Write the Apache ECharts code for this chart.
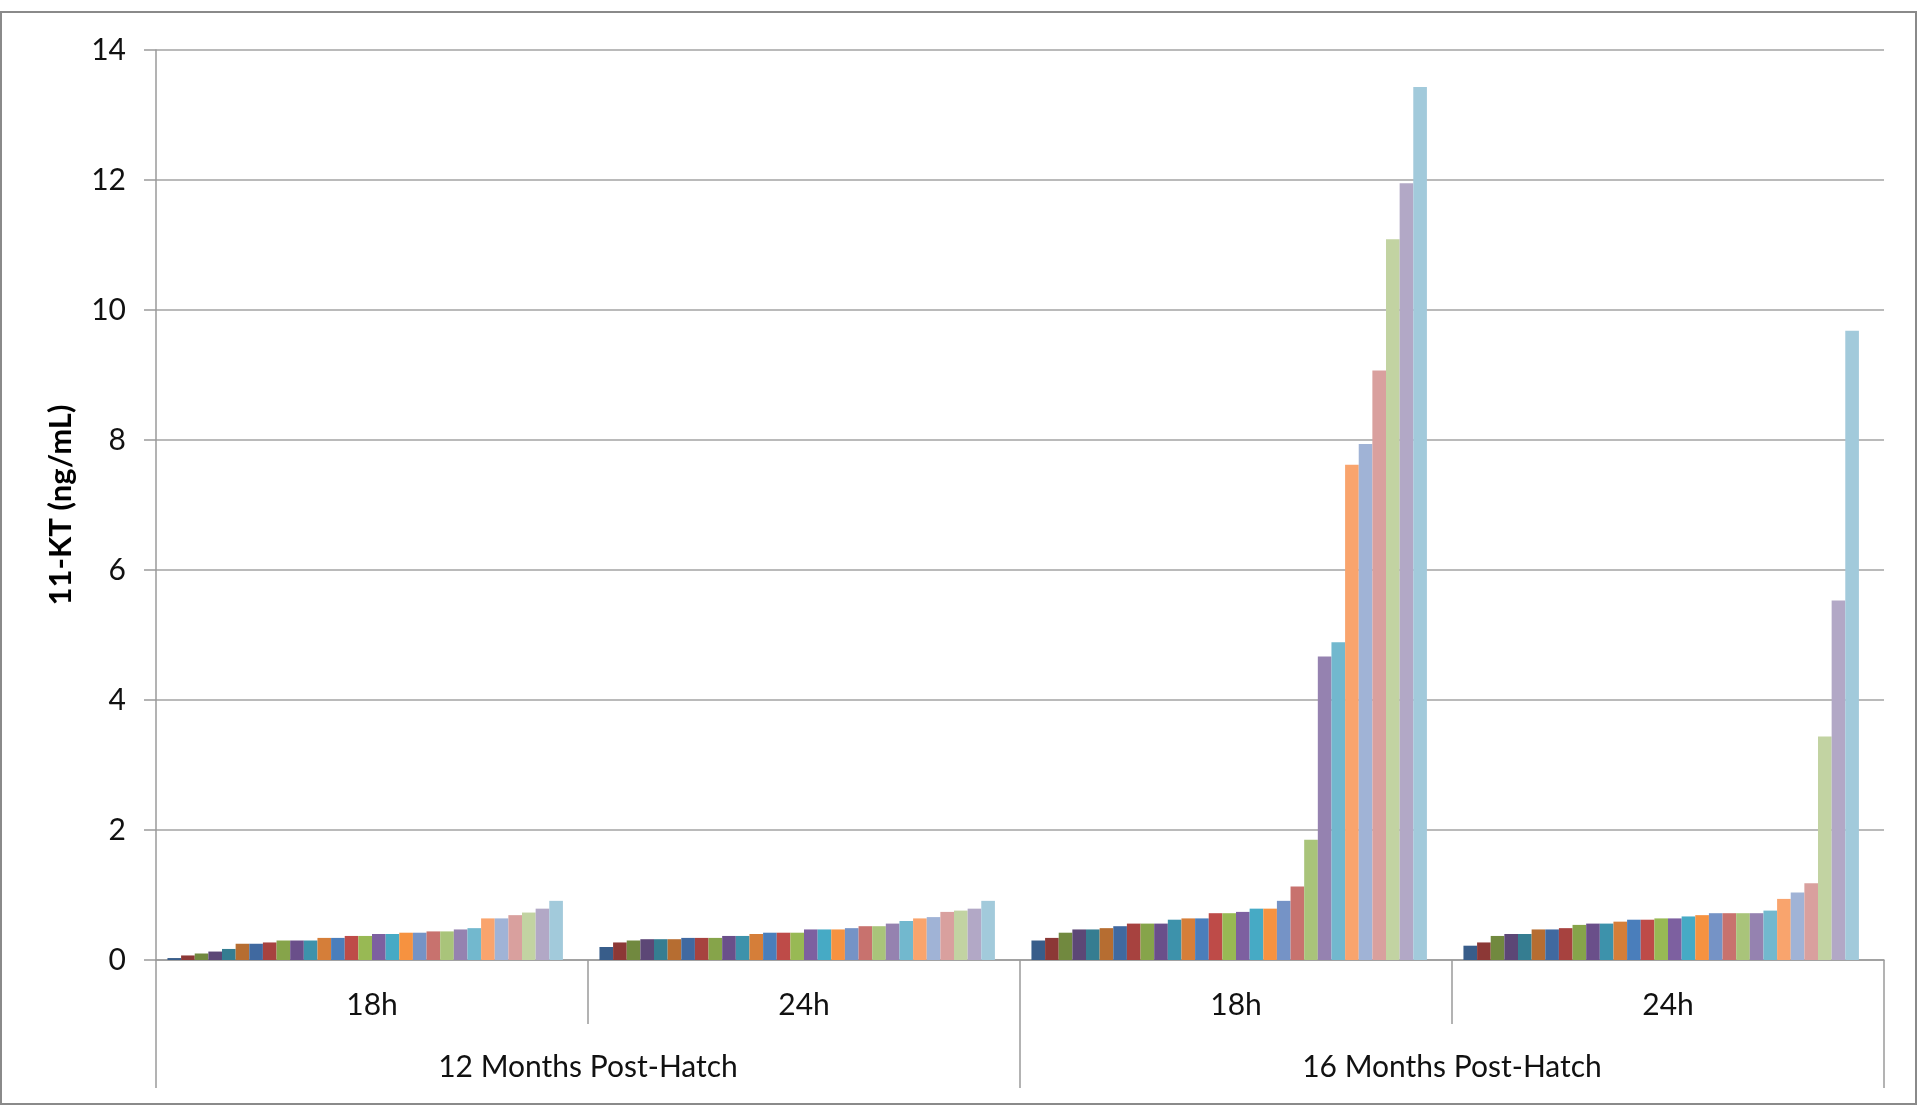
<!DOCTYPE html>
<html>
<head>
<meta charset="utf-8">
<script src="https://cdn.jsdelivr.net/npm/echarts@6/dist/echarts.min.js"></script>
<style>
html,body{margin:0;padding:0;background:#fff;}
#chart{width:1920px;height:1109px;}
</style>
</head>
<body>
<div id="chart"></div>
<script>
// Sub-categories (sampling time) and their groups (age)
const categories = ['18h', '24h', '18h', '24h'];
const groups = ['12 Months Post-Hatch', '16 Months Post-Hatch'];
const yTicks = [0, 2, 4, 6, 8, 10, 12, 14];

// Values per cluster, one entry per individual (series 1..29); series 30 is empty
const m12_18h = [0.03,0.07,0.10,0.13,0.17,0.25,0.25,0.27,0.30,0.30,0.30,0.34,0.34,0.37,0.37,0.40,0.40,0.42,0.42,0.44,0.44,0.47,0.49,0.64,0.64,0.69,0.73,0.79,0.91];
const m12_24h = [0.20,0.27,0.30,0.32,0.32,0.32,0.34,0.34,0.34,0.37,0.37,0.40,0.42,0.42,0.42,0.47,0.47,0.47,0.49,0.52,0.52,0.56,0.60,0.64,0.66,0.74,0.76,0.79,0.91];
const m16_18h = [0.30,0.34,0.42,0.47,0.47,0.49,0.52,0.56,0.56,0.56,0.62,0.64,0.64,0.72,0.72,0.74,0.79,0.79,0.91,1.13,1.85,4.67,4.89,7.62,7.94,9.07,11.09,11.95,13.43];
const m16_24h = [0.22,0.27,0.37,0.40,0.40,0.47,0.47,0.49,0.54,0.56,0.56,0.59,0.62,0.62,0.64,0.64,0.67,0.69,0.72,0.72,0.72,0.72,0.76,0.94,1.04,1.18,3.44,5.53,9.68];

const seriesColors = [
  '#385D8A','#8C3836','#71893F','#5C4776','#357D91','#B66D31',
  '#4069A0','#A7423F','#86A44A','#6A4F8A','#3D92AB','#D57E39',
  '#4A7EBB','#BE4B48','#98B954','#7D60A0','#46AAC5','#F69240',
  '#7593C6','#C8726E','#A9C47A','#9582B0','#72B8CE','#F9A46D',
  '#A0B3D6','#D9A09E','#C2D3A2','#B2A8C6','#A2CADB','#FAC090'
];
const seriesCount = 30;

const clusters = [m12_18h, m12_24h, m16_18h, m16_24h];
const series = [];
for (let i = 0; i < seriesCount; i++) {
  series.push({
    type: 'bar',
    name: 'S' + (i + 1),
    xAxisIndex: 0,
    barGap: '0%',
    barCategoryGap: '5.3%',
    itemStyle: { color: seriesColors[i] },
    data: clusters.map(c => (i < c.length ? c[i] : null)),
    animation: false
  });
}

const font = 'Lato, "Open Sans", sans-serif';
const chart = echarts.init(document.getElementById('chart'));
chart.setOption({
  backgroundColor: '#ffffff',
  animation: false,
  grid: { left: 156, right: 36, top: 50, bottom: 149, containLabel: false },
  graphic: [{
    type: 'rect',
    shape: { x: 1, y: 12, width: 1915, height: 1092 },
    style: { fill: 'none', stroke: '#8a8a8a', lineWidth: 2 },
    silent: true, z: -10
  }],
  xAxis: [{
    type: 'category',
    data: categories,
    position: 'bottom',
    axisLine: { show: true, lineStyle: { color: '#9a9a9a', width: 1.5 } },
    axisTick: { show: true, length: 64, lineStyle: { color: '#9a9a9a', width: 1.5 } },
    axisLabel: { margin: 30, fontSize: 30, color: '#111', fontFamily: font },
    splitLine: { show: false }
  }, {
    type: 'category',
    data: groups,
    position: 'bottom',
    axisLine: { show: false },
    axisTick: { show: true, length: 128, lineStyle: { color: '#9a9a9a', width: 1.5 } },
    axisLabel: { margin: 92, fontSize: 30, color: '#111', fontFamily: font },
    splitLine: { show: false }
  }],
  yAxis: {
    type: 'value',
    min: yTicks[0],
    max: yTicks[yTicks.length - 1],
    interval: 2,
    name: '11-KT (ng/mL)',
    nameLocation: 'middle',
    nameGap: 80,
    nameTextStyle: { fontSize: 31, fontWeight: 'bold', color: '#000', fontFamily: font },
    axisLine: { show: true, lineStyle: { color: '#9a9a9a', width: 1.5 } },
    axisTick: { show: true, length: 12, lineStyle: { color: '#9a9a9a', width: 1.5 } },
    axisLabel: { margin: 30, fontSize: 30, color: '#111', fontFamily: font },
    splitLine: { show: true, lineStyle: { color: '#a3a3a3', width: 1.5 } }
  },
  series: series
});
</script>
</body>
</html>
